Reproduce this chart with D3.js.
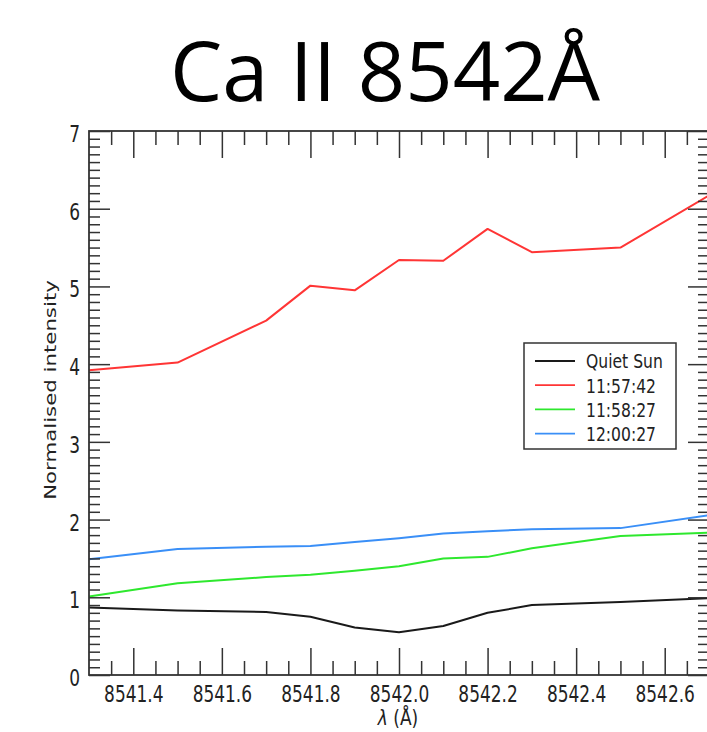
<!DOCTYPE html>
<html>
<head>
<meta charset="utf-8">
<script src="https://cdn.jsdelivr.net/npm/d3@7"></script>
<style>
  body { margin: 0; background: #fff; }
  svg { display: block; }
</style>
</head>
<body>
<svg id="chart"></svg>
<script>
// wavelength samples (Å)
const wavelength = [8541.3, 8541.5, 8541.7, 8541.8, 8541.9, 8542.0, 8542.1, 8542.2, 8542.3, 8542.5, 8542.7];
// normalised intensity per profile
const quietSun = [0.87, 0.83, 0.81, 0.75, 0.61, 0.55, 0.63, 0.80, 0.90, 0.94, 0.99];
const t115742  = [3.92, 4.02, 4.56, 5.01, 4.95, 5.34, 5.33, 5.74, 5.44, 5.50, 6.17];
const t115827  = [1.01, 1.18, 1.26, 1.29, 1.34, 1.40, 1.50, 1.52, 1.63, 1.79, 1.83];
const t120027  = [1.49, 1.62, 1.65, 1.66, 1.71, 1.76, 1.82, 1.85, 1.875, 1.89, 2.055];

const seriesNames = ['Quiet Sun', '11:57:42', '11:58:27', '12:00:27'];
const seriesValues = [quietSun, t115742, t115827, t120027];
const seriesColors = ['#1a1a1a', '#ff3535', '#2ee82e', '#3a8ff7'];

const xTickValues = [8541.4, 8541.6, 8541.8, 8542.0, 8542.2, 8542.4, 8542.6];
const yTickValues = [0, 1, 2, 3, 4, 5, 6, 7];

const width = 707, height = 732;
const margin = { top: 131, right: -2, bottom: 57, left: 89 };
const axisColor = '#333';

const svg = d3.select('#chart')
  .attr('width', width)
  .attr('height', height);

const xScale = d3.scaleLinear([8541.3, 8542.7], [margin.left, width - margin.right]);
const yScale = d3.scaleLinear([0, 7], [height - margin.bottom, margin.top]);

const plotW = width - margin.right - margin.left,
  plotH = height - margin.bottom - margin.top;

// title
svg.append('text')
  .attr('x', 385)
  .attr('y', 101)
  .attr('text-anchor', 'middle')
  .attr('font-family', 'Open Sans, Lato, sans-serif')
  .attr('font-size', 83)
  .attr('fill', '#000')
  .text('Ca II 8542Å');

// lines
const line = d3.line()
  .x((d, i) => xScale(wavelength[i]))
  .y(d => yScale(d));

const lineGroup = svg.append('g').attr('class', 'line-group');
seriesValues.forEach((vals, k) => {
  lineGroup.append('path')
    .attr('d', line(vals))
    .attr('fill', 'none')
    .attr('stroke', seriesColors[k])
    .attr('stroke-width', 2)
    .attr('stroke-linejoin', 'round');
});

// axes
const xMinor = d3.range(8541.35, 8542.7, 0.05).filter(v => !xTickValues.some(t => Math.abs(t - v) < 1e-6));
const yMinor = d3.range(0.1, 7, 0.1).filter(v => Math.abs(v - Math.round(v)) > 1e-6);

const axisGroup = svg.append('g').attr('class', 'axis-group');

function styleAxis(g) {
  g.select('.domain').remove();
  g.selectAll('.tick line').attr('stroke', axisColor).attr('stroke-width', 1.5);
}

// bottom
axisGroup.append('g')
  .attr('transform', `translate(0, ${yScale(0)})`)
  .call(d3.axisBottom(xScale).tickValues(xTickValues).tickSize(-27).tickSizeOuter(0)
    .tickFormat(d3.format('.1f')))
  .call(styleAxis)
  .call(g => g.selectAll('.tick text')
    .attr('y', null).attr('dy', null)
    .attr('transform', 'translate(0, 26.5) scale(1, 1.34)')
    .attr('font-family', 'DejaVu Sans, sans-serif')
    .attr('font-size', 17)
    .attr('fill', '#222'));
axisGroup.append('g')
  .attr('transform', `translate(0, ${yScale(0)})`)
  .call(d3.axisBottom(xScale).tickValues(xMinor).tickSize(-14).tickSizeOuter(0).tickFormat(''))
  .call(styleAxis);

// top
axisGroup.append('g')
  .attr('transform', `translate(0, ${yScale(7)})`)
  .call(d3.axisTop(xScale).tickValues(xTickValues).tickSize(-27).tickSizeOuter(0).tickFormat(''))
  .call(styleAxis);
axisGroup.append('g')
  .attr('transform', `translate(0, ${yScale(7)})`)
  .call(d3.axisTop(xScale).tickValues(xMinor).tickSize(-14).tickSizeOuter(0).tickFormat(''))
  .call(styleAxis);

// left
axisGroup.append('g')
  .attr('transform', `translate(${xScale(8541.3)}, 0)`)
  .call(d3.axisLeft(yScale).tickValues(yTickValues).tickSize(-21).tickSizeOuter(0)
    .tickFormat(d3.format('d')))
  .call(styleAxis)
  .call(g => g.selectAll('.tick text')
    .attr('x', null).attr('dy', null)
    .attr('transform', 'translate(-9, 10.5) scale(1, 1.4)')
    .attr('font-family', 'DejaVu Sans, sans-serif')
    .attr('font-size', 17)
    .attr('fill', '#222'));
axisGroup.append('g')
  .attr('transform', `translate(${xScale(8541.3)}, 0)`)
  .call(d3.axisLeft(yScale).tickValues(yMinor).tickSize(-11).tickSizeOuter(0).tickFormat(''))
  .call(styleAxis);

// right
axisGroup.append('g')
  .attr('transform', `translate(${xScale(8542.7)}, 0)`)
  .call(d3.axisRight(yScale).tickValues(yTickValues).tickSize(-21).tickSizeOuter(0).tickFormat(''))
  .call(styleAxis);
axisGroup.append('g')
  .attr('transform', `translate(${xScale(8542.7)}, 0)`)
  .call(d3.axisRight(yScale).tickValues(yMinor).tickSize(-11).tickSizeOuter(0).tickFormat(''))
  .call(styleAxis);

// frame
axisGroup.append('rect')
  .attr('x', margin.left)
  .attr('y', margin.top)
  .attr('width', plotW)
  .attr('height', plotH)
  .attr('fill', 'none')
  .attr('stroke', axisColor)
  .attr('stroke-width', 1.8);

// axis names
axisGroup.append('g')
  .attr('transform', `translate(56, 390) rotate(-90) scale(1.42, 1)`)
.append('text')
  .attr('text-anchor', 'middle')
  .attr('font-family', 'DejaVu Sans, sans-serif')
  .attr('font-size', 15)
  .attr('fill', '#222')
  .text('Normalised intensity');

const xName = axisGroup.append('g')
  .attr('transform', `translate(398, 725) scale(1, 1.25)`)
.append('text')
  .attr('text-anchor', 'middle')
  .attr('font-family', 'DejaVu Sans, sans-serif')
  .attr('font-size', 17)
  .attr('fill', '#222');
xName.append('tspan').attr('font-style', 'italic').text('λ');
xName.append('tspan').text(' (Å)');

// legend
const legend = svg.append('g').attr('class', 'legend')
  .attr('transform', 'translate(524, 343)');
legend.append('rect')
  .attr('width', 152)
  .attr('height', 106)
  .attr('fill', '#fff')
  .attr('stroke', axisColor)
  .attr('stroke-width', 1.5);
const item = legend.selectAll('.legend-item')
  .data(seriesNames)
  .join('g')
  .attr('class', 'legend-item')
  .attr('transform', (d, i) => `translate(0, ${18 + i * 24.2})`);
item.append('line')
  .attr('x1', 11)
  .attr('x2', 51)
  .attr('stroke', (d, i) => seriesColors[i])
  .attr('stroke-width', 1.8);
item.append('text')
  .attr('transform', 'translate(62, 7.4) scale(1, 1.3)')
  .attr('font-family', 'DejaVu Sans, sans-serif')
  .attr('font-size', 15.6)
  .attr('fill', '#222')
  .text(d => d);
</script>
</body>
</html>
